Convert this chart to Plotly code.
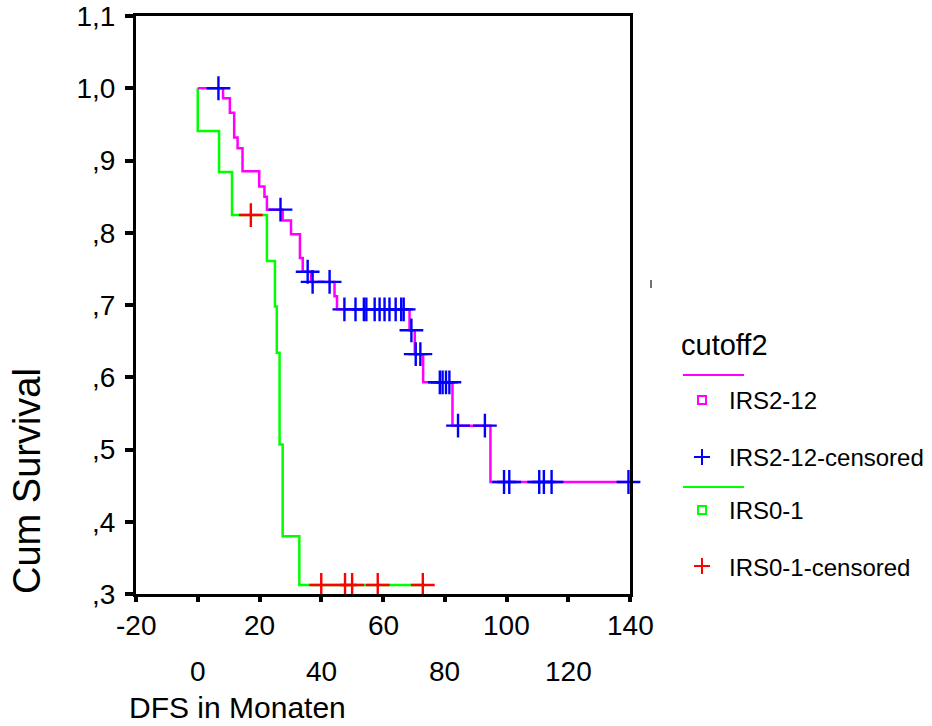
import plotly.graph_objects as go

# ---- data ----
irs212_time = [0, 8.2, 10.4, 11.8, 12.9, 14.5, 19.9, 21.6, 22.4, 27.5, 30.2, 33.1, 34.0,
               36.7, 44.3, 45.1, 68.6, 70.3, 73.0, 82.5, 94.8, 139.5]
irs212_surv = [1.0, 0.986, 0.966, 0.932, 0.917, 0.885, 0.864, 0.850, 0.832, 0.817, 0.798, 0.765, 0.746,
               0.732, 0.712, 0.694, 0.665, 0.632, 0.593, 0.533, 0.455, 0.455]

irs212_cens_time = [6.7, 26.8, 35.6, 37.2, 42.7, 47.5, 51.1, 53.8, 54.6, 57.3, 58.9, 60.5, 62.1,
                    64.1, 65.9, 66.7, 69.2, 70.6, 72.1, 78.4, 79.3, 80.4, 81.5, 84.3, 93.0,
                    99.2, 100.9, 110.6, 112.1, 114.6, 139.5]
irs212_cens_surv = [1.0, 0.832, 0.746, 0.732, 0.732, 0.694, 0.694, 0.694, 0.694, 0.694, 0.694, 0.694, 0.694,
                    0.694, 0.694, 0.694, 0.665, 0.632, 0.632, 0.593, 0.593, 0.593, 0.593, 0.533, 0.533,
                    0.455, 0.455, 0.455, 0.455, 0.455, 0.455]

irs01_time = [0, 0, 6.9, 11.1, 22.4, 25.0, 25.6, 26.5, 27.5, 32.9, 72.9]
irs01_surv = [1.0, 0.941, 0.884, 0.8245, 0.761, 0.698, 0.634, 0.507, 0.380, 0.3125, 0.3125]

irs01_cens_time = [17.2, 40.0, 47.7, 50.0, 58.3, 72.9]
irs01_cens_surv = [0.8245, 0.3125, 0.3125, 0.3125, 0.3125, 0.3125]

y_tickvals = [0.3, 0.4, 0.5, 0.6, 0.7, 0.8, 0.9, 1.0, 1.1]
y_ticktext = [",3", ",4", ",5", ",6", ",7", ",8", ",9", "1,0", "1,1"]
x_tick_row1 = [-20, 20, 60, 100, 140]
x_tick_row2 = [0, 40, 80, 120]

legend_title = "cutoff2"
legend_labels = ["IRS2-12", "IRS2-12-censored", "IRS0-1", "IRS0-1-censored"]

MAGENTA = "#FF00FF"
GREEN = "#00FF00"
BLUE = "#0000FF"
RED = "#FF0000"
FONT = "Liberation Sans, Arial, sans-serif"

W, H = 932, 726
L, R, T, B = 136, 630, 16, 594


def px(xp):
    return (xp - L) / (R - L)


def py(yp):
    return (B - yp) / (B - T)


fig = go.Figure()

fig.add_trace(go.Scatter(x=irs01_time, y=irs01_surv, mode="lines", line=dict(color=GREEN, width=2.5, shape="hv"),
                         showlegend=False, hoverinfo="skip"))
fig.add_trace(go.Scatter(x=irs212_time, y=irs212_surv, mode="lines", line=dict(color=MAGENTA, width=2.5, shape="hv"),
                         showlegend=False, hoverinfo="skip"))
fig.add_trace(go.Scatter(x=irs212_cens_time, y=irs212_cens_surv, mode="markers", cliponaxis=False,
                         marker=dict(symbol="cross-thin", size=17, color=BLUE, line=dict(color=BLUE, width=2.4)),
                         showlegend=False))
fig.add_trace(go.Scatter(x=irs01_cens_time, y=irs01_cens_surv, mode="markers", cliponaxis=False,
                         marker=dict(symbol="cross-thin", size=17, color=RED, line=dict(color=RED, width=2.4)),
                         showlegend=False))

annotations = []
# staggered x tick labels
for v in x_tick_row1:
    annotations.append(dict(x=v, y=py(625), xref="x", yref="paper", text=str(v), showarrow=False,
                            xanchor="center", yanchor="middle", font=dict(size=28, color="black", family=FONT)))
for v in x_tick_row2:
    annotations.append(dict(x=v, y=py(671), xref="x", yref="paper", text=str(v), showarrow=False,
                            xanchor="center", yanchor="middle", font=dict(size=28, color="black", family=FONT)))
# axis titles
annotations.append(dict(x=px(237), y=py(707), xref="paper", yref="paper", text="DFS in Monaten", showarrow=False,
                        xanchor="center", yanchor="middle", font=dict(size=30, color="black", family=FONT)))
annotations.append(dict(x=px(27), y=py(481), xref="paper", yref="paper", text="Cum Survival", showarrow=False,
                        textangle=-90, xanchor="center", yanchor="middle",
                        font=dict(size=38, color="black", family=FONT)))
# legend texts
annotations.append(dict(x=px(679), y=py(345), xref="paper", yref="paper", text=legend_title, showarrow=False,
                        xanchor="left", yanchor="middle", font=dict(size=29, color="black", family=FONT)))
for lbl, yc in zip(legend_labels, [400, 457, 510, 567]):
    annotations.append(dict(x=px(727), y=py(yc), xref="paper", yref="paper", text=lbl, showarrow=False,
                            xanchor="left", yanchor="middle", font=dict(size=24, color="black", family=FONT)))

shapes = []
# legend line headers
for yc, col in [(375, MAGENTA), (487, GREEN)]:
    shapes.append(dict(type="line", xref="paper", yref="paper", x0=px(683), x1=px(744), y0=py(yc), y1=py(yc),
                       line=dict(color=col, width=2)))
# legend squares
for yc, col in [(400, MAGENTA), (510, GREEN)]:
    shapes.append(dict(type="rect", xref="paper", yref="paper", x0=px(698), x1=px(706), y0=py(yc - 4), y1=py(yc + 4),
                       line=dict(color=col, width=2)))
# legend plus signs
for yc, col in [(457, BLUE), (566, RED)]:
    shapes.append(dict(type="line", xref="paper", yref="paper", x0=px(694), x1=px(710), y0=py(yc), y1=py(yc),
                       line=dict(color=col, width=2)))
    shapes.append(dict(type="line", xref="paper", yref="paper", x0=px(702), x1=px(702), y0=py(yc - 8), y1=py(yc + 8),
                       line=dict(color=col, width=2)))
# small stray mark on the right of the frame
shapes.append(dict(type="line", xref="paper", yref="paper", x0=px(651), x1=px(651), y0=py(280), y1=py(288),
                   line=dict(color="#444444", width=1.5)))

fig.update_layout(
    width=W, height=H,
    margin=dict(l=L, r=W - R, t=T, b=H - B, autoexpand=False),
    paper_bgcolor="white", plot_bgcolor="white",
    font=dict(family=FONT, color="black"),
    showlegend=False,
    annotations=annotations,
    shapes=shapes,
    xaxis=dict(range=[-20, 140], tickvals=x_tick_row1 + x_tick_row2, showticklabels=False,
               ticks="outside", ticklen=5, tickwidth=4, tickcolor="black", automargin=False,
               showline=True, linecolor="black", linewidth=3, mirror=True,
               showgrid=False, zeroline=False),
    yaxis=dict(range=[0.3, 1.1], tickvals=y_tickvals, ticktext=y_ticktext,
               ticks="outside", ticklen=8, tickwidth=4, tickcolor="black", automargin=False,
               tickfont=dict(size=28, color="black", family=FONT), ticklabelstandoff=4,
               showline=True, linecolor="black", linewidth=3, mirror=True,
               showgrid=False, zeroline=False),
)

fig.write_html(
    "out.html",
    config={"displayModeBar": False},
    post_script="document.body.style.margin='0';document.body.style.padding='0';document.body.style.overflow='hidden';",
)
